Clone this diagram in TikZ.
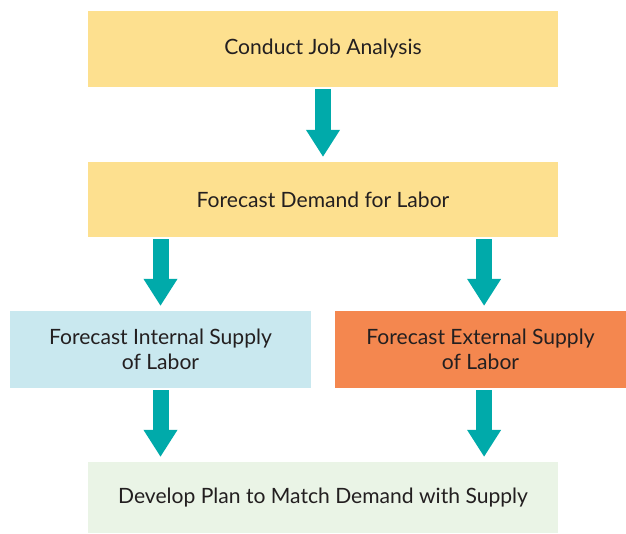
\documentclass[tikz,border=0pt]{standalone}
\usepackage{fontspec}
\setmainfont{Lato}
\definecolor{planyellow}{RGB}{253, 224, 143}
\definecolor{planblue}{RGB}{201, 232, 239}
\definecolor{planorange}{RGB}{244, 135, 79}
\definecolor{plangreen}{RGB}{234, 244, 230}
\definecolor{flowteal}{RGB}{0, 170, 170}
\definecolor{textgray}{RGB}{35, 31, 32}
\usetikzlibrary{arrows.meta, positioning, calc}

\tikzset{
  stagebox/.style={rectangle, inner sep=0pt, minimum height=1.9cm, text=textgray,
    font=\fontsize{15}{17.5}\selectfont, align=center},
  flow/.style={-{Triangle[width=0.8cm, length=0.675cm]}, line width=0.4cm, flowteal,
    shorten <=0.05cm, shorten >=0.12cm}
}

\begin{document}
\begin{tikzpicture}
  \useasboundingbox (0, 0) rectangle (15.65, -13.325);

  % Stages
  \node[stagebox, fill=planyellow, minimum width=11.75cm] (analysis) at (8.075, -1.225) {Conduct Job Analysis};
  \node[stagebox, fill=planyellow, minimum width=11.75cm, minimum height=1.875cm] (demand) at (8.075, -4.9875) {Forecast Demand for Labor};
  \node[stagebox, fill=planblue, minimum width=7.525cm, minimum height=1.925cm] (internal) at (4.0125, -8.7375) {Forecast Internal Supply\\of Labor};
  \node[stagebox, fill=planorange, minimum width=7.275cm, minimum height=1.925cm] (external) at (12.0125, -8.7375) {Forecast External Supply\\of Labor};
  \node[stagebox, fill=plangreen, minimum width=11.75cm, minimum height=1.775cm] (plan) at (8.075, -12.4375) {Develop Plan to Match Demand with Supply};

  % Arrows
  \draw[flow] (analysis.south) -- (demand.north);
  \draw[flow] (demand.south -| internal.north) -- (internal.north);
  \draw[flow] ($(demand.south -| external.north) + (0.09, 0)$) -- ($(external.north) + (0.09, 0)$);
  \draw[flow] (internal.south) -- (internal.south |- plan.north);
  \draw[flow] ($(external.south) + (0.09, 0)$) -- ($(external.south |- plan.north) + (0.09, 0)$);
\end{tikzpicture}
\end{document}
